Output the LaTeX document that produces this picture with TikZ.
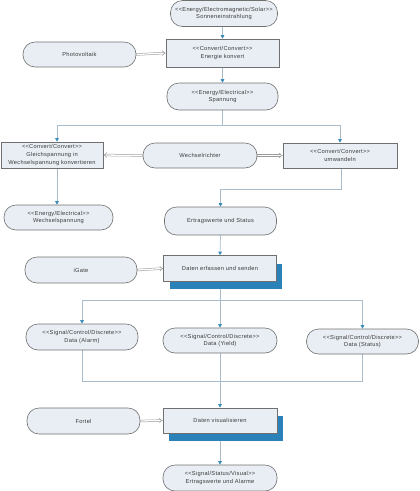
\documentclass[tikz,border=0pt]{standalone}
\usepackage{fontspec}
\newfontfamily\labfont{Liberation Sans}[LetterSpace=5]
\usetikzlibrary{arrows.meta}
\definecolor{fillc}{HTML}{E9EEF4}
\definecolor{borderc}{HTML}{707070}
\definecolor{linec}{HTML}{A9BCCC}
\definecolor{arrowc}{HTML}{3A8DBB}
\definecolor{shadowc}{HTML}{2A82B8}
\definecolor{implc}{HTML}{9A9A9A}
\definecolor{textc}{HTML}{3A3A3A}
\pgfdeclarelayer{background}
\pgfsetlayers{background,main}
\begin{document}
\begin{tikzpicture}[x=1pt,y=-1pt,
  base/.style={draw=borderc, fill=fillc, line width=0.6pt, inner sep=0pt, align=center,
    font=\labfont\fontsize{5.7}{7.6}\selectfont, text=textc},
  pill/.style={base, rounded corners=12pt},
  box/.style={base},
  shadowbox/.style={fill=shadowc, draw=none},
  flow/.style={draw=linec, line width=0.7pt, -{Triangle[length=3.5pt,width=3.5pt,color=arrowc]}},
  plain/.style={draw=linec, line width=0.7pt},
  impl/.style={draw=implc, double=white, double distance=1.3pt, line width=0.5pt, -{Implies}}
]
\useasboundingbox (0,0) rectangle (420,491);

% nodes
\node[pill, minimum width=107pt, minimum height=26pt] (sun) at (224,13.5)
  {<<Energy/Electromagnetic/Solar>>\\Sonneneinstrahlung};
\node[box, minimum width=113pt, minimum height=28pt] (konv) at (222.5,53)
  {<<Convert/Convert>>\\Energie konvert};
\node[pill, minimum width=111pt, minimum height=27pt] (spann) at (222.5,96.5)
  {<<Energy/Electrical>>\\Spannung};
\node[pill, minimum width=113pt, minimum height=25pt] (photo) at (79.5,54.5)
  {Photovoltaik};
\node[box, minimum width=102pt, minimum height=26pt] (gleich) at (52,155)
  {<<Convert/Convert>>\\Gleichspannung in\\Wechselspannung konvertieren};
\node[pill, minimum width=109pt, minimum height=25pt] (wspann) at (58.5,217.5)
  {<<Energy/Electrical>>\\Wechselspannung};
\node[pill, minimum width=114pt, minimum height=25pt] (wr) at (200,155.5)
  {Wechselrichter};
\node[box, minimum width=114pt, minimum height=25pt] (umw) at (340,155.5)
  {<<Convert/Convert>>\\umwandeln};
\node[pill, minimum width=112pt, minimum height=28pt] (ertrag) at (220.5,221)
  {Ertragswerte und Status};
\node[pill, minimum width=112pt, minimum height=26pt] (igate) at (81,270)
  {iGate};
\fill[shadowbox] (170,264) rectangle (282,289);
\node[box, minimum width=113pt, minimum height=26pt] (erf) at (220,268.5)
  {Daten erfassen und senden};
\node[pill, minimum width=112pt, minimum height=26pt] (alarm) at (82,337)
  {<<Signal/Control/Discrete>>\\Data (Alarm)};
\node[pill, minimum width=114pt, minimum height=25pt] (yield) at (220,340.5)
  {<<Signal/Control/Discrete>>\\Data (Yield)};
\node[pill, minimum width=112pt, minimum height=25pt] (status) at (362.5,341.5)
  {<<Signal/Control/Discrete>>\\Data (Status)};
\node[pill, minimum width=113pt, minimum height=26pt] (fortel) at (83.5,421)
  {Fortel};
\fill[shadowbox] (169,416) rectangle (283,441);
\node[box, minimum width=114pt, minimum height=25pt] (visu) at (220,420.5)
  {Daten visualisieren};
\node[pill, minimum width=114pt, minimum height=26pt] (ausg) at (220,478)
  {<<Signal/Status/Visual>>\\Ertragswerte und Alarme};

% connectors
\begin{pgfonlayer}{background}
\coordinate (s1) at (222.5,125);
\coordinate (gl) at (57,125);
\coordinate (u1) at (341,189);
\coordinate (s2) at (220,300);
\coordinate (m) at (220,381);
\draw[flow] (konv.north |- sun.south) -- (konv.north);
\draw[flow] (konv.south) -- (spann.north);
\draw[impl] (photo.east) -- (konv.west);
\draw[plain] (spann.south) -- (s1);
\draw[flow] (s1) -| (gl |- gleich.north);
\draw[flow] (s1) -| (umw.north);
\draw[impl] (wr.west) -- (gleich.east);
\draw[impl] (wr.east) -- (umw.west);
\draw[flow] (gl |- gleich.south) -- (gl |- wspann.north);
\draw[flow] (u1 |- umw.south) -- (u1) -| (ertrag.north);
\draw[flow] (ertrag.south) -- (erf.north);
\draw[impl] (igate.east) -- (erf.west);
\draw[plain] (erf.south) -- (s2);
\draw[flow] (s2) -| (alarm.north);
\draw[flow] (s2) -| (status.north);
\draw[flow] (s2) -- (yield.north);
\draw[plain] (alarm.south) |- (m);
\draw[plain] (status.south) |- (m);
\draw[flow] (yield.south) -- (visu.north);
\draw[impl] (fortel.east) -- (visu.west);
\draw[flow] (visu.south) -- (ausg.north);
\end{pgfonlayer}
\end{tikzpicture}
\end{document}
